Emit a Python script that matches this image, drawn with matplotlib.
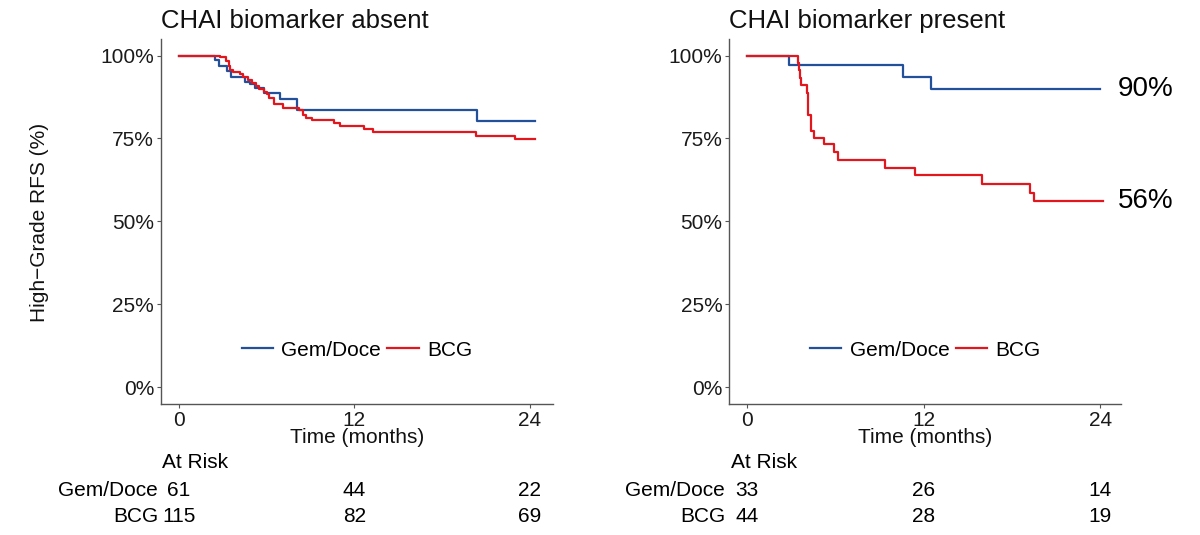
import matplotlib
matplotlib.use("Agg")
from matplotlib import pyplot as plt
from matplotlib import transforms

plt.rcParams['font.family'] = ['Liberation Sans', 'DejaVu Sans']

BLUE = '#22509a'
RED = '#e3161d'

# CHAI biomarker absent
absent_gem_t = [0, 2.5, 2.75, 3.3, 3.6, 4.5, 4.9, 5.2, 5.8, 6.9, 8.1, 20.4, 24.4]
absent_gem_s = [100, 98.8, 97, 95.3, 93.6, 92, 91.3, 90.3, 88.8, 87, 83.5, 80.4, 80.4]
absent_bcg_t = [0, 2.8, 3.2, 3.4, 3.5, 3.7, 4.2, 4.4, 4.7, 5.0, 5.3, 5.5, 5.8, 6.0,
                6.2, 6.5, 7.1, 8.2, 8.5, 8.7, 9.1, 10.6, 11.0, 12.7, 13.3, 20.3, 23.0, 24.4]
absent_bcg_s = [100, 99.5, 98.3, 97, 95.8, 95, 94.3, 93.6, 92.6, 91.8, 90.8, 90, 89, 88.3,
                87.3, 85.5, 84.3, 83.5, 82.2, 81.2, 80.7, 79.7, 78.7, 77.9, 76.9, 75.7, 74.9, 74.9]

# CHAI biomarker present
present_gem_t = [0, 2.9, 10.6, 12.5, 24.0]
present_gem_s = [100, 97.2, 93.6, 90, 90]
present_bcg_t = [0, 3.5, 3.55, 3.62, 3.7, 4.08, 4.19, 4.37, 4.6, 5.27, 5.95, 6.2,
                 9.4, 11.4, 16.0, 19.2, 19.5, 24.2]
present_bcg_s = [100, 97.7, 95.5, 93.2, 91.0, 88.7, 82.2, 77.4, 75.2, 73.2, 71.0, 68.4,
                 66.2, 63.9, 61.4, 58.6, 56.1, 56.1]

risk_times = [0, 12, 24]
absent_risk_gem = [61, 44, 22]
absent_risk_bcg = [115, 82, 69]
present_risk_gem = [33, 26, 14]
present_risk_bcg = [44, 28, 19]

y_ticks = [0, 25, 50, 75, 100]
y_labels = ['0%', '25%', '50%', '75%', '100%']

W, H = 1200, 535
fig = plt.figure(figsize=(W / 100, H / 100), dpi=100)


def panel(rect, xlim, title, gem_t, gem_s, bcg_t, bcg_s, risk_gem, risk_bcg, label_px):
    ax = fig.add_axes(rect)
    ax.step(gem_t, gem_s, where='post', color=BLUE, lw=1.6, label='Gem/Doce')
    ax.step(bcg_t, bcg_s, where='post', color=RED, lw=1.6, label='BCG')
    ax.set_xlim(*xlim)
    ax.set_ylim(-5, 105)
    ax.set_xticks(risk_times)
    ax.set_yticks(y_ticks)
    ax.set_yticklabels(y_labels)
    for s in ['top', 'right']:
        ax.spines[s].set_visible(False)
    for s in ['left', 'bottom']:
        ax.spines[s].set_color('#555555')
        ax.spines[s].set_linewidth(1.0)
    ax.tick_params(length=3, width=0.8, color='#555555', labelsize=15,
                   labelcolor='#1a1a1a', pad=2)
    ax.set_title(title, loc='left', fontsize=18.5, pad=8, color='#111111')
    ax.set_xlabel('Time (months)', fontsize=15, color='#111111')
    ax.xaxis.set_label_coords(0.5, -0.092)
    ax.xaxis.label.set_va('center')
    ax.legend(loc='center', bbox_to_anchor=(0.5, 0.147), ncol=2, frameon=False,
              fontsize=15, handlelength=1.5, handletextpad=0.4, columnspacing=0.3)

    # at-risk table
    tr = transforms.blended_transform_factory(ax.transData, fig.transFigure)
    fig.text(rect[0] + 1.5 / W, 1 - 462 / H, 'At Risk', fontsize=15, va='center', ha='left')
    fig.text(label_px / W, 1 - 490 / H, 'Gem/Doce', fontsize=15, va='center', ha='right')
    fig.text(label_px / W, 1 - 517 / H, 'BCG', fontsize=15, va='center', ha='right')
    for t, g, b in zip(risk_times, risk_gem, risk_bcg):
        ax.text(t, 1 - 490 / H, str(g), transform=tr, fontsize=15, va='center', ha='center')
        ax.text(t, 1 - 517 / H, str(b), transform=tr, fontsize=15, va='center', ha='center')
    return ax


bottom = (H - 403.7) / H
height = (403.7 - 39) / H
ax1 = panel([161 / W, bottom, (553 - 161) / W, height], (-1.22, 25.6),
            'CHAI biomarker absent', absent_gem_t, absent_gem_s, absent_bcg_t, absent_bcg_s,
            absent_risk_gem, absent_risk_bcg, 158)
ax2 = panel([729.3 / W, bottom, (1121 - 729.3) / W, height], (-1.18, 25.4),
            'CHAI biomarker present', present_gem_t, present_gem_s, present_bcg_t, present_bcg_s,
            present_risk_gem, present_risk_bcg, 725)

ax2.text(25.2, present_gem_s[-1], '90%', fontsize=20, va='center', ha='left', clip_on=False)
ax2.text(25.2, present_bcg_s[-1], '56%', fontsize=20, va='center', ha='left', clip_on=False)

fig.text(40 / W, 1 - 222 / H, 'High\u2212Grade RFS (%)', rotation=90, fontsize=15,
         va='center', ha='center', color='#111111')

fig.savefig('out.png', dpi=100)
